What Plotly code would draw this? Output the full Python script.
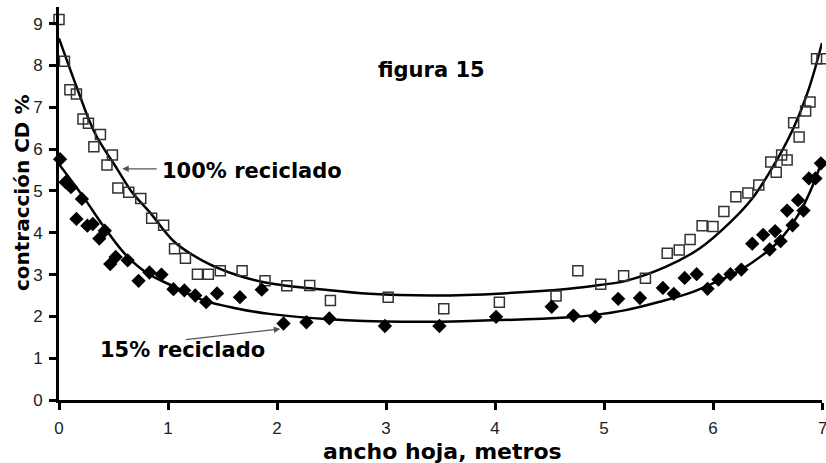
import plotly.graph_objects as go

# 100% reciclado (open squares)
sq_x = [0.0, 0.05, 0.10, 0.16, 0.22, 0.27, 0.32, 0.38, 0.44, 0.49,
        0.54, 0.64, 0.75, 0.85, 0.96, 1.06, 1.16, 1.27, 1.37, 1.48,
        1.68, 1.89, 2.09, 2.30, 2.49, 3.02, 3.53, 4.04, 4.56, 4.76,
        4.97, 5.18, 5.38, 5.58, 5.69, 5.79, 5.90, 6.00, 6.10, 6.21,
        6.32, 6.42, 6.53, 6.58, 6.63, 6.68, 6.74, 6.79, 6.85, 6.89,
        6.95, 7.00]
sq_y = [9.1, 8.1, 7.42, 7.32, 6.72, 6.62, 6.06, 6.35, 5.62, 5.86,
        5.07, 4.97, 4.82, 4.35, 4.18, 3.62, 3.39, 3.01, 3.01, 3.09,
        3.09, 2.85, 2.73, 2.74, 2.38, 2.46, 2.18, 2.34, 2.49, 3.09,
        2.77, 2.97, 2.91, 3.51, 3.59, 3.84, 4.17, 4.15, 4.51, 4.86,
        4.95, 5.14, 5.69, 5.45, 5.86, 5.74, 6.63, 6.29, 6.91, 7.13,
        8.16, 8.16]

# 15% reciclado (filled diamonds)
di_x = [0.01, 0.06, 0.11, 0.16, 0.21, 0.26, 0.31, 0.37, 0.42, 0.47,
        0.52, 0.63, 0.73, 0.83, 0.94, 1.05, 1.15, 1.25, 1.35, 1.45,
        1.66, 1.86, 2.06, 2.27, 2.48, 2.99, 3.49, 4.01, 4.52, 4.72,
        4.92, 5.13, 5.33, 5.54, 5.64, 5.74, 5.85, 5.95, 6.05, 6.16,
        6.26, 6.36, 6.46, 6.52, 6.57, 6.62, 6.68, 6.73, 6.78, 6.83,
        6.88, 6.94, 6.99]
di_y = [5.76, 5.21, 5.09, 4.33, 4.81, 4.17, 4.21, 3.86, 4.05, 3.25,
        3.42, 3.34, 2.85, 3.05, 3.00, 2.65, 2.62, 2.50, 2.34, 2.55,
        2.46, 2.64, 1.83, 1.86, 1.95, 1.77, 1.77, 1.99, 2.23, 2.02,
        1.99, 2.42, 2.44, 2.68, 2.54, 2.92, 3.01, 2.66, 2.88, 3.01,
        3.12, 3.74, 3.95, 3.60, 4.04, 3.80, 4.53, 4.18, 4.78, 4.53,
        5.30, 5.30, 5.66]

# trend curves
c100_x = [0.0, 0.16, 0.33, 0.54, 0.67, 0.83, 1.06, 1.32, 1.63, 1.93,
          2.39, 2.85, 3.46, 4.07, 4.68, 4.96, 5.20, 5.57, 5.88, 6.15,
          6.36, 6.55, 6.73, 6.88, 7.0]
c100_y = [8.65, 7.50, 6.38, 5.50, 4.97, 4.50, 3.78, 3.33, 2.99, 2.79,
          2.65, 2.54, 2.50, 2.55, 2.66, 2.75, 2.85, 3.19, 3.63, 4.23,
          4.82, 5.58, 6.46, 7.45, 8.54]

c15_x = [0.0, 0.22, 0.41, 0.62, 0.83, 1.05, 1.32, 1.63, 1.93, 2.48,
         3.16, 3.77, 4.68, 4.90, 5.20, 5.51, 5.81, 6.05, 6.26, 6.52,
         6.62, 6.73, 6.82, 6.91, 7.0]
c15_y = [5.64, 4.87, 4.15, 3.45, 3.00, 2.72, 2.39, 2.19, 2.06, 1.93,
         1.87, 1.89, 1.98, 2.03, 2.15, 2.35, 2.58, 2.85, 3.12, 3.60,
         3.85, 4.22, 4.60, 5.10, 5.72]

x_ticks = [0, 1, 2, 3, 4, 5, 6, 7]
y_ticks = [0, 1, 2, 3, 4, 5, 6, 7, 8, 9]

BOLD = "DejaVu Sans"
TICKFONT = dict(family="Liberation Sans", size=17, color="#222222")

fig = go.Figure()
fig.add_trace(go.Scatter(x=c100_x, y=c100_y, mode="lines",
                         line=dict(color="black", width=2.5, shape="spline", smoothing=1.0),
                         hoverinfo="skip", showlegend=False))
fig.add_trace(go.Scatter(x=c15_x, y=c15_y, mode="lines",
                         line=dict(color="black", width=2.5, shape="spline", smoothing=1.0),
                         hoverinfo="skip", showlegend=False))
fig.add_trace(go.Scatter(x=sq_x, y=sq_y, mode="markers", name="100% reciclado",
                         marker=dict(symbol="square-open", size=10, color="#333333",
                                     line=dict(width=1.5, color="#333333")),
                         cliponaxis=False, showlegend=False))
fig.add_trace(go.Scatter(x=di_x, y=di_y, mode="markers", name="15% reciclado",
                         marker=dict(symbol="diamond", size=11, color="black"),
                         cliponaxis=False, showlegend=False))

annotations = [
    dict(x=3.42, y=7.9, xref="x", yref="y", text="<b>figura 15</b>", showarrow=False,
         font=dict(family=BOLD, size=21, color="black"), xanchor="center", yanchor="middle"),
    dict(x=0.93, y=5.48, xref="x", yref="y", text="<b>100% reciclado</b>", showarrow=False,
         font=dict(family=BOLD, size=21, color="black"), xanchor="left", yanchor="middle"),
    dict(x=0.36, y=1.2, xref="x", yref="y", text="<b>15% reciclado</b>", showarrow=False,
         font=dict(family=BOLD, size=21, color="black"), xanchor="left", yanchor="middle"),
    # arrows
    dict(x=0.58, y=5.53, ax=0.91, ay=5.53, xref="x", yref="y", axref="x", ayref="y",
         text="", showarrow=True, arrowhead=2, arrowsize=1, arrowwidth=1.3, arrowcolor="#555555"),
    dict(x=2.03, y=1.70, ax=1.15, ay=1.44, xref="x", yref="y", axref="x", ayref="y",
         text="", showarrow=True, arrowhead=2, arrowsize=1, arrowwidth=1.3, arrowcolor="#555555"),
    # last x tick label, which sits on the right edge of the picture
    dict(x=x_ticks[-1], y=-0.072, xref="x", yref="paper", text=str(x_ticks[-1]),
         showarrow=False, font=TICKFONT, xanchor="center", yanchor="middle"),
    # axis titles
    dict(x=-0.0485, y=0.529, xref="paper", yref="paper", text="<b>contracción CD %</b>",
         textangle=-90, showarrow=False, font=dict(family=BOLD, size=20, color="black"),
         xanchor="center", yanchor="middle"),
    dict(x=0.503, y=-0.132, xref="paper", yref="paper", text="<b>ancho hoja, metros</b>",
         showarrow=False, font=dict(family=BOLD, size=22, color="black"),
         xanchor="center", yanchor="middle"),
]

fig.update_layout(
    width=826, height=463,
    margin=dict(l=59, r=4, t=7, b=63),
    paper_bgcolor="white", plot_bgcolor="white",
    annotations=annotations,
    xaxis=dict(range=[0, 7], tickvals=x_ticks, ticktext=[str(v) for v in x_ticks],
               showgrid=False, zeroline=False, showline=True, linecolor="black", linewidth=3,
               ticks="outside", ticklen=7, tickwidth=2.5, tickcolor="black",
               tickfont=TICKFONT, ticklabelstandoff=4),
    yaxis=dict(range=[0, 9.4], tickvals=y_ticks, ticktext=[str(v) for v in y_ticks],
               showgrid=False, zeroline=False, showline=True, linecolor="black", linewidth=3,
               ticks="outside", ticklen=7, tickwidth=2.5, tickcolor="black",
               tickfont=TICKFONT, ticklabelstandoff=3),
)

fig.write_html("out.html", config={"displayModeBar": False},
               post_script="document.body.style.margin='0px';document.body.style.overflow='hidden';")
